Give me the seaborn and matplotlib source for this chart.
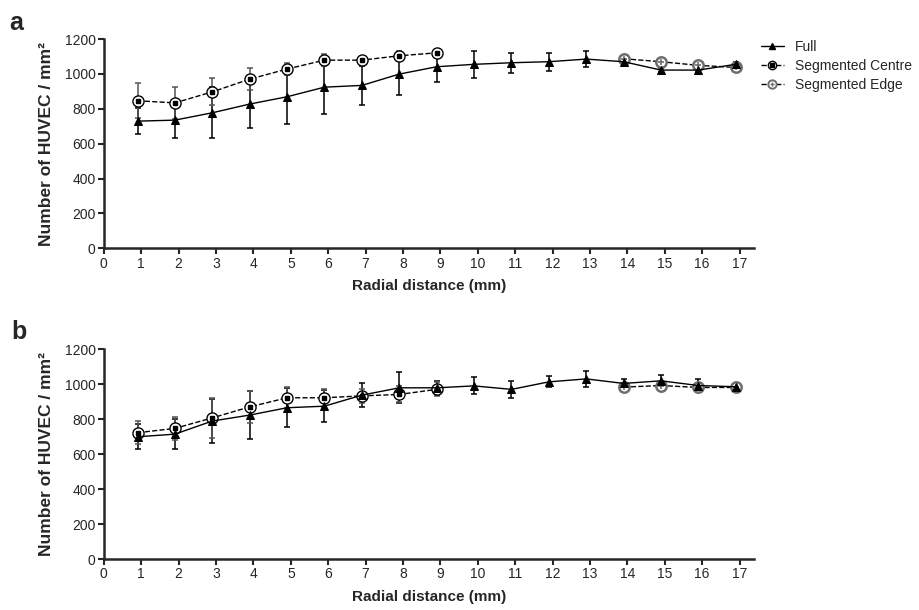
import matplotlib
matplotlib.use("Agg")
import matplotlib.pyplot as plt
from matplotlib.lines import Line2D
from matplotlib.legend_handler import HandlerTuple
import seaborn as sns

# radial positions (points sit just left of the integer ticks)
full_x = [0.9, 1.9, 2.9, 3.9, 4.9, 5.9, 6.9, 7.9, 8.9, 9.9, 10.9, 11.9, 12.9, 13.9, 14.9, 15.9, 16.9]
centre_x = [0.9, 1.9, 2.9, 3.9, 4.9, 5.9, 6.9, 7.9, 8.9]
edge_x = [13.9, 14.9, 15.9, 16.9]

# panel a
full_a = [729, 735, 777, 827, 869, 924, 934, 999, 1041, 1055, 1064, 1070, 1085, 1070, 1022, 1022, 1055]
full_a_sd = [76, 105, 147, 136, 157, 155, 113, 121, 86, 78, 57, 51, 48, 15, 12, 12, 15]
centre_a = [846, 834, 897, 970, 1028, 1079, 1079, 1104, 1121]
centre_a_sd = [100, 92, 77, 65, 36, 35, 20, 29, 10]
edge_a = [1087, 1070, 1049, 1037]
edge_a_sd = [12, 15, 10, 12]

# panel b
full_b = [699, 714, 789, 823, 865, 874, 937, 979, 979, 990, 970, 1013, 1030, 1004, 1019, 992, 985]
full_b_sd = [72, 84, 128, 137, 112, 93, 70, 88, 40, 48, 49, 31, 44, 23, 36, 35, 12]
centre_b = [722, 747, 807, 870, 922, 922, 933, 941, 970]
centre_b_sd = [65, 66, 115, 92, 61, 51, 40, 46, 40]
edge_b = [983, 992, 981, 981]
edge_b_sd = [15, 12, 20, 10]

sns.set_style("ticks")
plt.rcParams['font.family'] = ['Liberation Sans', 'DejaVu Sans']

GREY = '#6e6e6e'
CGREY = '#555555'

fig = plt.figure(figsize=(9.19, 6.10), dpi=100)
ax_a = fig.add_axes([0.113, 0.593, 0.708, 0.343])
ax_b = fig.add_axes([0.113, 0.0836, 0.708, 0.344])


def draw_panel(ax, full, full_sd, centre, centre_sd, edge, edge_sd):
    # error bars
    ax.errorbar(full_x, full, yerr=full_sd, fmt='none', ecolor='black', elinewidth=1.1, capsize=2.5, capthick=1.1, zorder=2)
    ax.errorbar(centre_x, centre, yerr=centre_sd, fmt='none', ecolor=CGREY, elinewidth=1.1, capsize=2.5, capthick=1.1, zorder=2)
    ax.errorbar(edge_x, edge, yerr=edge_sd, fmt='none', ecolor=GREY, elinewidth=1.1, capsize=2.5, capthick=1.1, zorder=2)

    # segmented centre: dashed line, open circle with small square inside
    sns.lineplot(x=centre_x, y=centre, ax=ax, color='black', linestyle='--', linewidth=1.0,
                 marker='o', markersize=8, markerfacecolor='white', markeredgecolor='black',
                 markeredgewidth=1.0, zorder=3)
    ax.plot(centre_x, centre, linestyle='none', marker='s', markersize=3.5, color='black', zorder=4)

    # segmented edge: dashed line, grey circle with cross
    sns.lineplot(x=edge_x, y=edge, ax=ax, color='black', linestyle='--', linewidth=1.0,
                 marker='o', markersize=7.5, markerfacecolor='white', markeredgecolor=GREY,
                 markeredgewidth=1.8, zorder=3)
    ax.plot(edge_x, edge, linestyle='none', marker='+', markersize=4, color=GREY, markeredgewidth=1.2, zorder=4)

    # full: solid line with filled triangles
    sns.lineplot(x=full_x, y=full, ax=ax, color='black', linewidth=1.0,
                 marker='^', markersize=5.5, markeredgecolor='black', zorder=5)

    ax.set_xlim(0, 17.4)
    ax.set_ylim(0, 1200)
    ax.set_xticks(range(0, 18))
    ax.set_yticks(range(0, 1201, 200))
    ax.set_xlabel('Radial distance (mm)', fontsize=11, fontweight='bold', labelpad=6)
    ax.set_ylabel('Number of HUVEC / mm²', fontsize=12.5, fontweight='bold')
    ax.yaxis.set_label_coords(-0.077, 0.5)
    ax.tick_params(axis='both', labelsize=10, width=1.5, length=4, direction='out', pad=2)
    for side in ['left', 'bottom']:
        ax.spines[side].set_linewidth(1.8)
    sns.despine(ax=ax)


draw_panel(ax_a, full_a, full_a_sd, centre_a, centre_a_sd, edge_a, edge_a_sd)
draw_panel(ax_b, full_b, full_b_sd, centre_b, centre_b_sd, edge_b, edge_b_sd)

fig.text(0.010, 0.950, 'a', fontsize=18, fontweight='bold')
fig.text(0.012, 0.445, 'b', fontsize=18, fontweight='bold')

h_full = Line2D([], [], color='black', linewidth=1.0, marker='^', markersize=4)
h_centre = (Line2D([], [], color='black', linestyle='--', linewidth=1.0, marker='o', markersize=6,
                   markerfacecolor='white', markeredgecolor='black'),
            Line2D([], [], linestyle='none', marker='s', markersize=2.5, color='black'))
h_edge = (Line2D([], [], color='black', linestyle='--', linewidth=1.0, marker='o', markersize=6,
                 markerfacecolor='white', markeredgecolor=GREY, markeredgewidth=1.4),
          Line2D([], [], linestyle='none', marker='+', markersize=3, color=GREY))
fig.legend([h_full, h_centre, h_edge], ['Full', 'Segmented Centre', 'Segmented Edge'],
           loc='upper left', bbox_to_anchor=(0.814, 0.955), frameon=False, fontsize=10,
           handlelength=1.7, handletextpad=0.8, labelspacing=0.35,
           handler_map={tuple: HandlerTuple(ndivide=1)})

fig.savefig('out.png', dpi=100)
